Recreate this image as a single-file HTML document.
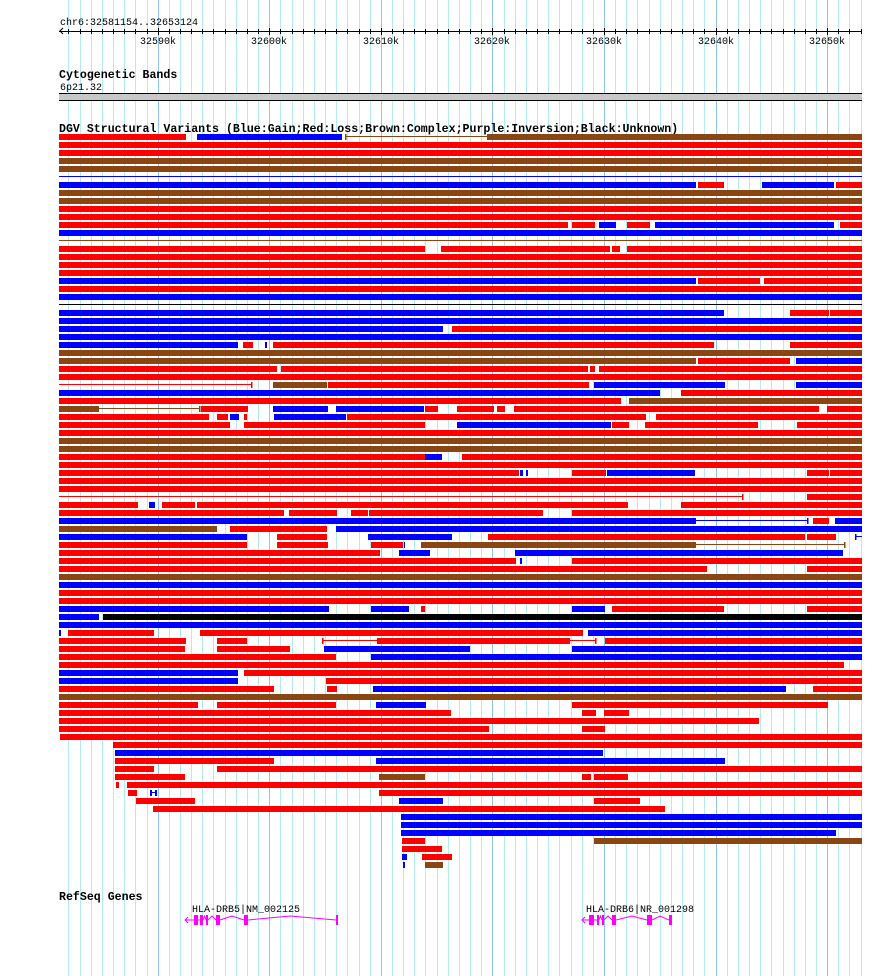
<!DOCTYPE html>
<html><head><meta charset="utf-8"><style>
html,body{margin:0;padding:0;background:#fff;}
svg{display:block;}
text{font-family:"Liberation Mono","DejaVu Sans Mono",monospace;}
</style></head><body>
<svg id="s" width="890" height="976" xmlns="http://www.w3.org/2000/svg">
<rect width="890" height="976" fill="#fff"/>
<g id="grid"></g>
<text x="60" y="25" font-size="10">chr6:32581154..32653124</text>
<g id="ruler"></g>
<text x="59" y="78" font-size="11.6" font-weight="bold">Cytogenetic Bands</text>
<text x="60" y="90" font-size="10">6p21.32</text>
<rect x="59" y="93" width="803" height="7" fill="#c8c8c8"/>
<rect x="59" y="93" width="803" height="1" fill="#000"/>
<rect x="59" y="100" width="803" height="1" fill="#000"/>
<text x="59" y="132" font-size="11.6" font-weight="bold">DGV Structural Variants (Blue:Gain;Red:Loss;Brown:Complex;Purple:Inversion;Black:Unknown)</text>
<g id="rows"></g>
<text x="59" y="900" font-size="11.6" font-weight="bold">RefSeq Genes</text>
<text x="192" y="912" font-size="10">HLA-DRB5|NM_002125</text>
<text x="586" y="912" font-size="10">HLA-DRB6|NR_001298</text>
<g fill="#ff00ff" stroke="none">
<rect x="194" y="915" width="4" height="10"/><rect x="200" y="915" width="3" height="10"/><rect x="206" y="915" width="2" height="10"/><rect x="216" y="915" width="4" height="10"/><rect x="244" y="915" width="4" height="10"/><rect x="336" y="915" width="2" height="10"/>
<rect x="589" y="915" width="5" height="10"/><rect x="597" y="915" width="2" height="10"/><rect x="602" y="915" width="2" height="10"/><rect x="612" y="915" width="4" height="10"/><rect x="647" y="915" width="5" height="10"/><rect x="669" y="915" width="3" height="10"/>
</g>
<g fill="none" stroke="#ff00ff" stroke-width="1">
<polyline points="185,920 194,920"/><polyline points="188,917 185,920 188,923"/>
<polyline points="198,920 200,920"/><polyline points="203,920 204.5,916 206,920"/><polyline points="208,920 212,916 216,920"/>
<polyline points="220,920 232,916 244,920"/><polyline points="248,920 290,916 336,920"/>
<polyline points="582,920 589,920"/><polyline points="585,917 582,920 585,923"/>
<polyline points="594,920 597,920"/><polyline points="599,920 600.5,916 602,920"/><polyline points="604,920 608,916 612,920"/>
<polyline points="616,920 632,916 647,920"/><polyline points="652,920 660,916 669,920"/>
</g>
</svg>
<script>
var NS="http://www.w3.org/2000/svg";
function el(p,t,a){var e=document.createElementNS(NS,t);for(var k in a)e.setAttribute(k,a[k]);p.appendChild(e);return e;}
var grid=document.getElementById('grid'),ruler=document.getElementById('ruler'),rows=document.getElementById('rows');
var sc=803/71970;
for(var k=32582;k<=32653;k++){var x=Math.round(59+(k*1000-32581154)*sc);
 el(grid,'rect',{x:x,y:0,width:1,height:976,fill:(k%10==0)?'#90c8ec':'#b4ecf0'});
 el(ruler,'rect',{x:x,y:(k%10==0)?28:29,width:1,height:(k%10==0)?7:5,fill:'#000'});
 if(k%10==0){var t=el(ruler,'text',{x:x,y:44,'font-size':10,'text-anchor':'middle'});t.textContent=k+'k';}
}
el(ruler,'rect',{x:59,y:31,width:803,height:1,fill:'#000'});
el(ruler,'polyline',{points:'63,28 60,31 63,34',fill:'none',stroke:'#000','stroke-width':1});
var C={r:'#ff0000',b:'#0000ff',n:'#8b4513',k:'#000000'};
var D={
134:"r59-186 b197-342 tn345 N345-487 n487-862",142:"r59-862",150:"r59-862",158:"n59-862",166:"n59-862",174:"B59-862",
182:"b59-696 r698-724 b762-834 r836-862",190:"n59-862",198:"n59-862",206:"r59-862",214:"r59-862",
222:"r59-568 r572-595 b599-616 r627-650 b655-834 r840-862",230:"b59-862",238:"N59-862",
246:"r59-425 r441-610 r612-620 r627-862",254:"r59-862",262:"r59-862",270:"r59-862",
278:"b59-696 r698-760 r764-862",286:"r59-862",294:"b59-862",302:"K59-862",
310:"b59-724 r790-829 r830-862",318:"b59-862",326:"b59-443 r452-862",334:"b59-862",
342:"b59-238 r243-253 b265-267 r273-714 r790-862",350:"n59-862",358:"n59-696 r698-790 b796-862",
366:"r59-277 r281-588 r590-595 r599-862",374:"r59-862",
382:"R59-251 tr251 n273-327 r328-589 b594-725 b796-862",390:"b59-660 r681-862",398:"r59-621 n629-862",
406:"n59-99 N99-199 tn199 r201-248 b273-328 b336-424 r425-438 r457-494 r497-505 r514-819 r827-862",
414:"r59-209 r217-228 b230-239 r244-247 b274-346 r347-646 r656-862",
422:"r59-230 r244-425 b457-611 r612-629 r645-758 r797-862",430:"r59-862",438:"n59-862",446:"n59-862",
454:"r59-425 b425-442 r462-862",462:"r59-862",
470:"r59-519 b520-523 b526-528 r572-606 b607-695 r807-829 r830-862",478:"r59-862",486:"r59-862",
494:"R59-742 tr742 r807-862",502:"r59-138 b149-155 r162-195 r197-628 r681-862",
510:"r59-284 r289-337 r351-368 r369-543 r572-862",518:"b59-696 B696-807 tb807 r813-829 b835-862",
526:"n59-217 r230-327 b336-862",534:"b59-247 r277-327 b368-452 r488-805 r807-836 tb855 B855-862",
542:"r59-247 r277-328 r371-403 b404-405 n421-696 N696-844 tn844",550:"r59-380 b399-430 b515-843",
558:"r59-516 b520-522 r572-862",566:"r59-707 r807-862",574:"n59-862",582:"b59-862",590:"r59-862",598:"r59-862",
606:"b59-329 b371-409 r421-425 b572-605 r612-724 r807-862",614:"b59-99 k103-862",622:"b59-862",
630:"b59-61 r68-154 r200-583 b588-862",638:"r59-186 r217-247 R322-595 tr322 tr595 r377-570 r605-862",
646:"r59-185 r217-290 b324-470 b572-862",654:"r59-336 b371-862",662:"r59-844",670:"b59-238 r244-862",
678:"b59-238 r326-862",686:"r59-274 r327-337 b373-786 r813-862",694:"n59-862",
702:"r59-198 r217-336 b376-426 r572-828",710:"r59-451 r582-596 r604-629",718:"r59-759",726:"r59-489 r582-605",
734:"r60-862",742:"r113-862",750:"b115-603",758:"r115-274 b376-725",766:"r115-154 r217-862",
774:"r115-185 n379-425 r582-591 r594-628",782:"r116-119 r127-862",790:"r128-137 b150-152 b155-157 B150-157 r379-862",
798:"r136-195 b399-443 r594-640",806:"r153-665",814:"b401-862",822:"b401-862",830:"b401-836",
838:"r402-425 n594-862",846:"r402-442",854:"b402-407 r422-452",862:"b403-405 n425-443"};
for(var y in D){var yy=+y;D[y].split(' ').forEach(function(tk){
 var c=tk[0];
 if(c=='t'){el(rows,'rect',{x:+tk.slice(2),y:yy,width:1.5,height:6,fill:C[tk[1]]});return;}
 var p=tk.slice(1).split('-'),x1=+p[0],x2=+p[1];
 if(c==c.toUpperCase()){el(rows,'rect',{x:x1,y:yy+2,width:x2-x1,height:1,fill:C[c.toLowerCase()]});}
 else el(rows,'rect',{x:x1,y:yy,width:x2-x1,height:6,fill:C[c]});
});}
</script>
</body></html>
